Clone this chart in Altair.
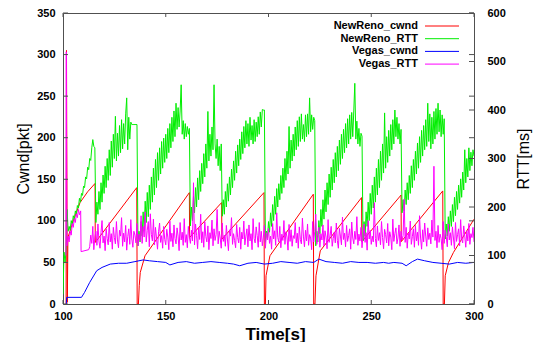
import altair as alt
import pandas as pd

# ---------------- data ----------------
series_names = ["NewReno_cwnd", "NewReno_RTT", "Vegas_cwnd", "Vegas_RTT"]
series_colors = ["#ff0000", "#00ee00", "#0000ff", "#ff00ff"]

x_ticks = [100, 150, 200, 250, 300]
cwnd_ticks = [0, 50, 100, 150, 200, 250, 300, 350]
rtt_ticks = [0, 100, 200, 300, 400, 500, 600]

# NewReno cwnd [pkt]
red_t = [101.5, 101.7, 102.1, 102.4, 105.0, 108.3, 112.0, 115.6, 115.7, 135.9,
         136.1, 136.7, 137.1, 137.6, 139.9, 161.5, 161.6, 177.2, 177.3, 197.8,
         198.0, 198.5, 198.8, 200.7, 221.8, 222.0, 222.6, 223.1, 225.2, 245.3,
         245.4, 264.5, 264.6, 284.8, 285.0, 285.6, 286.0, 287.6, 290.0, 300.0]
red_v = [0, 305, 2, 80, 100, 122, 135, 145, 74, 140,
         0, 0, 22, 38, 58, 134, 80, 122, 78, 134,
         0, 0, 34, 58, 132, 0, 0, 34, 64, 128,
         75, 131, 75, 136, 0, 0, 34, 50, 62, 102]

# Vegas cwnd [pkt]
blue_t = [101.6, 101.8, 109.0, 110.5, 113.0, 116.4, 119.0, 123.0, 127.0, 131.0,
          135.0, 139.0, 142.0, 146.0, 150.0, 152.0, 156.0, 160.0, 164.0, 168.0,
          172.0, 176.0, 180.0, 183.0, 186.0, 190.0, 194.0, 198.0, 202.0, 206.0,
          210.0, 214.0, 218.0, 222.0, 224.5, 228.0, 232.0, 236.0, 240.0, 244.0,
          248.0, 252.0, 256.0, 258.5, 261.0, 265.0, 267.0, 270.0, 272.5, 276.0,
          280.0, 284.0, 288.0, 292.0, 296.0, 300.0]
blue_v = [0, 8, 8, 14, 26, 40, 44, 48, 49, 49,
          51, 53, 52, 51, 50, 47, 50, 51, 49, 50,
          51, 50, 49, 48, 46, 49, 50, 48, 49, 51,
          50, 49, 51, 50, 54, 51, 50, 49, 51, 50,
          50, 49, 50, 49, 50, 49, 46, 51, 54, 52,
          50, 49, 48, 50, 49, 50]

# NewReno RTT [ms], one sample every 0.5 s from t = 100
green_start = 100.0
green_step = 0.5
green_v = [
    # 100.0 - 115.5
    20, 107, 85, 110, 195, 150, 160, 152, 172, 163, 182, 174, 192, 185, 203, 198,
    218, 210, 228, 224, 243, 240, 262, 258, 282, 277, 300, 296, 322, 339, 325, 322,
    # 116.0 - 136.0
    168, 210, 185, 232, 195, 250, 210, 266, 228, 284, 240, 300, 255, 318, 265, 336,
    282, 350, 300, 387, 295, 352, 305, 368, 312, 380, 320, 372, 330, 392, 425, 318,
    385, 340, 375, 370, 370, 370, 370, 370, 370,
    # 136.5 - 161.5
    120, 150, 128, 170, 140, 190, 152, 212, 168, 230, 180, 245, 195, 262, 210, 280,
    225, 298, 240, 312, 255, 322, 268, 335, 280, 342, 292, 350, 300, 362, 312, 372,
    322, 385, 335, 398, 345, 414, 360, 405, 365, 398, 452, 350, 378, 340, 372, 345,
    366, 350, 362,
    # 162.0 - 177.0
    161, 200, 172, 222, 188, 240, 200, 260, 215, 275, 232, 290, 248, 310, 262, 330,
    280, 397, 295, 350, 305, 365, 318, 452, 330, 300, 340, 285, 325, 275, 330,
    # 177.5 - 198.0
    181, 215, 185, 232, 200, 248, 212, 262, 225, 278, 240, 295, 255, 315, 270, 328,
    285, 340, 298, 355, 310, 366, 322, 378, 330, 372, 325, 385, 338, 368, 330, 380,
    335, 375, 345, 386, 350, 396, 365, 401, 400, 400,
    # 198.5 - 222.5
    127, 150, 135, 170, 148, 188, 160, 205, 172, 222, 185, 238, 200, 248, 215, 265,
    228, 280, 240, 300, 255, 315, 268, 366, 280, 338, 295, 350, 305, 365, 318, 378,
    325, 386, 335, 392, 340, 370, 335, 390, 345, 392, 350, 425, 355, 390, 360, 385,
    378,
    # 223.0 - 245.5
    120, 150, 128, 172, 145, 195, 160, 215, 175, 235, 190, 250, 205, 268, 220, 282,
    235, 298, 250, 312, 262, 325, 275, 338, 288, 350, 300, 360, 312, 372, 322, 382,
    330, 390, 340, 395, 345, 398, 455, 340, 377, 330, 362, 325, 352, 346,
    # 246.0 - 264.5
    130, 170, 140, 190, 160, 210, 172, 228, 185, 245, 198, 262, 210, 280, 225, 298,
    240, 315, 255, 330, 270, 394, 280, 345, 292, 358, 305, 370, 318, 380, 330, 400,
    345, 385, 340, 372, 330, 360,
    # 265.0 - 285.5
    188, 215, 192, 235, 205, 250, 215, 265, 228, 285, 240, 298, 255, 315, 268, 332,
    280, 345, 292, 358, 305, 368, 318, 380, 325, 414, 335, 392, 320, 385, 330, 397,
    340, 403, 350, 414, 355, 400, 345, 390, 350, 382,
    # 286.0 - 300.0
    134, 165, 140, 180, 150, 192, 160, 205, 170, 220, 182, 232, 195, 245, 208, 258,
    220, 272, 235, 318, 250, 300, 262, 322, 275, 313, 285, 318, 305,
]

# Vegas RTT [ms]: start-up part, then one sample every 0.5 s from t = 113
mag_head_t = [101.4, 101.6, 101.9, 102.5, 103.0, 103.5, 104.0, 104.5, 105.0, 105.5,
              106.0, 106.5, 107.0, 107.5, 108.0, 108.6, 108.8, 112.5]
mag_head_v = [100, 520, 120, 140, 128, 150, 142, 166, 158, 176,
              168, 186, 178, 195, 184, 192, 108, 112]
mag_start = 113.0
mag_step = 0.5
mag_v = [
    118, 142, 125, 160, 112, 138, 150, 121, 165, 130, 115, 148, 172, 126, 140, 110, 155, 135, 122, 168, 128, 145, 113, 158, 137,
    124, 170, 132, 116, 152, 140, 178, 119, 146, 128, 162, 111, 139, 155, 123, 174, 134, 117, 150, 142, 126, 166, 120, 144, 131,
    182, 125, 160, 138, 190, 128, 152, 170, 118, 186, 143, 130, 175, 122, 158, 136, 113, 149, 167, 127, 141, 115, 160, 133, 122,
    154, 138, 112, 171, 129, 146, 118, 163, 135, 124, 157, 140, 110, 168, 132, 148, 121, 176, 127, 143, 116, 160, 137, 125, 152,
    130, 250, 122, 165, 141, 114, 158, 133, 185, 126, 149, 117, 170, 139, 128, 161, 112, 147, 135, 173, 120, 155, 131, 143, 195,
    124, 150, 136, 115, 167, 129, 142, 119, 162, 134, 110, 153, 140, 178, 123, 145, 131, 116, 164, 137, 126, 158, 113, 148, 134,
    171, 122, 140, 155, 118, 163, 130, 145, 112, 176, 135, 126, 159, 141, 117, 168, 128, 150, 120, 138, 162, 115, 147, 132, 156,
    125, 140, 113, 166, 134, 151, 121, 188, 137, 128, 160, 116, 144, 131, 172, 123, 149, 138, 111, 164, 129, 153, 119, 141, 135,
    168, 126, 146, 115, 159, 133, 124, 177, 140, 118, 152, 130, 165, 121, 143, 136, 112, 170, 128, 150, 185, 123, 139, 158, 117,
    145, 132, 163, 120, 151, 138, 114, 174, 127, 142, 160, 119, 135, 148, 126, 167, 131, 115, 156, 140, 122, 179, 133, 146, 118,
    162, 129, 141, 155, 113, 169, 136, 124, 150, 133, 180, 121, 144, 130, 158, 116, 139, 165, 127, 147, 111, 172, 134, 152, 123,
    140, 128, 209, 135, 118, 161, 131, 147, 122, 170, 137, 114, 154, 143, 126, 166, 120, 149, 138, 112, 175, 129, 145, 157, 124,
    136, 163, 119, 150, 132, 141, 216, 127, 158, 115, 146, 134, 171, 123, 139, 155, 117, 162, 130, 148, 121, 182, 136, 113, 153,
    128, 167, 140, 119, 157, 133, 146, 124, 173, 138, 284, 131, 150, 116, 162, 127, 144, 135, 112, 170, 125, 152, 139, 118, 165,
    132, 147, 121, 159, 136, 114, 168, 129, 143, 155, 120, 174, 134, 126, 161, 140, 117, 151, 130, 166, 123, 145, 137, 158, 128,
]

# ---------------- tables ----------------
red_df = pd.DataFrame({"t": red_t, "v": red_v})
blue_df = pd.DataFrame({"t": blue_t, "v": blue_v})
green_df = pd.DataFrame({"t": [green_start + green_step * i for i in range(len(green_v))],
                         "v": green_v})
mag_df = pd.DataFrame({"t": mag_head_t + [mag_start + mag_step * i for i in range(len(mag_v))],
                       "v": mag_head_v + mag_v})
for d in (red_df, blue_df, green_df, mag_df):
    d["i"] = range(len(d))

# ---------------- layout / style ----------------
W, H = 411, 291
FONT = "Liberation Sans"
FRAME = "#505050"
CWND_DOM = [0, 350]
RTT_DOM = [0, 600]

x_scale = alt.Scale(domain=[100, 300], nice=False, zero=False)
x_axis = alt.Axis(values=x_ticks, format="d", ticks=False, domain=False, grid=False,
                  labelFont=FONT, labelFontSize=11, labelFontWeight="bold",
                  labelColor="black", labelPadding=6, labelFlush=False,
                  title="Time[s]", titleFont=FONT, titleFontSize=17,
                  titleFontWeight="bold", titleColor="black",
                  titleX=212, titleY=35, titleAlign="center",
                  titleBaseline="alphabetic")
left_axis = alt.Axis(orient="left", values=cwnd_ticks, format="d", ticks=False,
                     domain=False, grid=False, labelFont=FONT, labelFontSize=11,
                     labelFontWeight="bold", labelColor="black", labelPadding=8,
                     title="Cwnd[pkt]", titleFont=FONT, titleFontSize=16,
                     titleFontWeight="normal", titleColor="black",
                     titleAngle=270, titleX=-40, titleY=H / 2,
                     titleAlign="center", titleBaseline="middle")
right_axis = alt.Axis(orient="right", values=rtt_ticks, format="d", ticks=False,
                      domain=False, grid=False, labelFont=FONT, labelFontSize=11,
                      labelFontWeight="bold", labelColor="black", labelPadding=13,
                      title="RTT[ms]", titleFont=FONT, titleFontSize=16,
                      titleFontWeight="normal", titleColor="black",
                      titleAngle=270, titleX=49, titleY=H / 2,
                      titleAlign="center", titleBaseline="middle")


def series(df, dom, color, axis):
    return alt.Chart(df).mark_line(color=color, strokeWidth=1, clip=True).encode(
        x=alt.X("t:Q", scale=x_scale, axis=x_axis),
        y=alt.Y("v:Q", scale=alt.Scale(domain=dom, nice=False), axis=axis),
        order="i:Q",
    )


layers = [
    series(red_df, CWND_DOM, series_colors[0], left_axis),
    series(green_df, RTT_DOM, series_colors[1], right_axis),
    series(blue_df, CWND_DOM, series_colors[2], None),
    series(mag_df, RTT_DOM, series_colors[3], None),
]

# inward (gnuplot-style) tick marks
cw_df = pd.DataFrame({"v": cwnd_ticks})
rt_df = pd.DataFrame({"v": rtt_ticks})
xt_df = pd.DataFrame({"t": x_ticks})
tick_style = dict(color=FRAME, strokeWidth=1)
for df, dom, x0, x1 in [(cw_df, CWND_DOM, 0, 5), (cw_df, CWND_DOM, W - 5, W),
                        (rt_df, RTT_DOM, W - 5, W)]:
    layers.append(alt.Chart(df).mark_rule(**tick_style).encode(
        y=alt.Y("v:Q", scale=alt.Scale(domain=dom, nice=False), axis=None),
        x=alt.value(x0), x2=alt.value(x1)))
for y0, y1 in [(H - 4, H), (0, 4)]:
    layers.append(alt.Chart(xt_df).mark_rule(**tick_style).encode(
        x=alt.X("t:Q", scale=x_scale, axis=x_axis),
        y=alt.value(y0), y2=alt.value(y1)))

# legend (label left of the line sample, as in gnuplot)
one = pd.DataFrame({"k": [0]})
for k, (name, col) in enumerate(zip(series_names, series_colors)):
    yy = 13 + 12.7 * k
    layers.append(alt.Chart(one).mark_text(
        text=name, align="right", baseline="middle", font=FONT, fontSize=11,
        fontWeight="bold", color="black").encode(x=alt.value(355), y=alt.value(yy)))
    layers.append(alt.Chart(one).mark_rule(color=col, strokeWidth=1).encode(
        x=alt.value(362), x2=alt.value(396), y=alt.value(yy)))

chart = alt.layer(*layers).resolve_scale(y="independent").properties(
    width=W, height=H,
    padding={"left": 55, "top": 5, "right": 66, "bottom": 38},
    autosize=alt.AutoSizeParams(type="none"),
    background="white",
).configure_view(stroke=FRAME, strokeWidth=1)

chart.save("out.html", embed_options={"renderer": "svg", "actions": False})
